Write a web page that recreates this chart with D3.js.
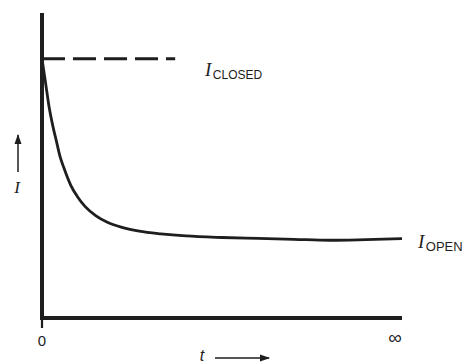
<!DOCTYPE html>
<html>
<head>
<meta charset="utf-8">
<script src="https://cdn.jsdelivr.net/npm/d3@7"></script>
<style>
  html, body { margin: 0; padding: 0; background: #fff; }
  svg { display: block; }
</style>
</head>
<body>
<svg id="chart" width="462" height="363"></svg>
<script>
// values (arbitrary units)
var tValues = [0, 1, 2, 3, 4, 5, 6, 8, 10, 12, 15, 18, 22, 27, 33, 40, 50, 60, 70, 80, 90, 100];
var iValues = [85, 77, 69, 63, 58, 53, 49.5, 43.5, 39.5, 36.5, 33.5, 31.5, 29.8, 28.5, 27.6, 26.9, 26.4, 26.1, 25.8, 25.5, 25.7, 26];
var iClosed = 85;
var closedEnd = 37;       // dashed reference stops here (t units)
var xTickValues = [0, 100];
var xTickLabels = ["0", "\u221E"];

var svg = d3.select("#chart");
var x = d3.scaleLinear().domain([0, 100]).range([42, 402]);
var y = d3.scaleLinear().domain([0, 100]).range([318, 13]);
var ink = "#1e1e1e";

// axes
svg.append("line")
    .attr("x1", x(0)).attr("x2", x(0))
    .attr("y1", y(100)).attr("y2", y(0) + 2)
    .attr("stroke", ink).attr("stroke-width", 4);
svg.append("line")
    .attr("x1", x(0) - 2).attr("x2", x(100))
    .attr("y1", y(0)).attr("y2", y(0))
    .attr("stroke", ink).attr("stroke-width", 4);
// small tick under origin
svg.append("line")
    .attr("x1", x(0)).attr("x2", x(0))
    .attr("y1", y(0)).attr("y2", y(0) + 10)
    .attr("stroke", ink).attr("stroke-width", 2.2);

svg.selectAll("text.tick").data(xTickValues).enter().append("text")
    .attr("class", "tick")
    .attr("x", function (d, i) { return x(d) - (i === 0 ? 0 : 7); })
    .attr("y", function (d, i) { return i === 0 ? 346 : 344; })
    .attr("text-anchor", "middle")
    .attr("font-family", "Liberation Sans, Arial, sans-serif")
    .attr("font-size", function (d, i) { return i === 0 ? 15 : 19; })
    .attr("fill", ink)
    .text(function (d, i) { return xTickLabels[i]; });

// I_closed dashed level
svg.append("line")
    .attr("x1", x(0)).attr("x2", x(closedEnd))
    .attr("y1", y(iClosed)).attr("y2", y(iClosed))
    .attr("stroke", ink).attr("stroke-width", 3.2)
    .attr("stroke-dasharray", "23,8");

// decay curve
var line = d3.line()
    .x(function (d, i) { return x(tValues[i]); })
    .y(function (d) { return y(d); })
    .curve(d3.curveMonotoneX);
svg.append("path")
    .datum(iValues)
    .attr("d", line)
    .attr("fill", "none")
    .attr("stroke", ink)
    .attr("stroke-width", 2.8);

// labels with subscripts
var label = function (px, py, sub, fs) {
    var t = svg.append("text").attr("x", px).attr("y", py).attr("fill", ink);
    t.append("tspan")
        .attr("font-family", "Liberation Serif, Times New Roman, serif")
        .attr("font-style", "italic")
        .attr("font-size", 19)
        .text("I");
    t.append("tspan")
        .attr("dy", 3)
        .attr("dx", 1.5)
        .attr("font-family", "Liberation Sans, Arial, sans-serif")
        .attr("font-size", fs)
        .text(sub);
};
label(205, 76, "CLOSED", 12);
label(418, 248, "OPEN", 13);

// axis names with arrows
svg.append("defs").append("marker")
    .attr("id", "head")
    .attr("viewBox", "0 0 10 10")
    .attr("refX", 9).attr("refY", 5)
    .attr("markerWidth", 10).attr("markerHeight", 10)
    .attr("markerUnits", "userSpaceOnUse")
    .attr("orient", "auto")
    .append("path")
    .attr("d", "M0,1.5L10,5L0,8.5Z")
    .attr("fill", ink);

svg.append("line")
    .attr("x1", 18).attr("x2", 18)
    .attr("y1", 172).attr("y2", 135)
    .attr("stroke", ink).attr("stroke-width", 1.5)
    .attr("marker-end", "url(#head)");
svg.append("text")
    .attr("x", 17).attr("y", 193)
    .attr("text-anchor", "middle")
    .attr("font-family", "Liberation Serif, Times New Roman, serif")
    .attr("font-style", "italic")
    .attr("font-size", 17)
    .attr("fill", ink)
    .text("I");

svg.append("line")
    .attr("x1", 215).attr("x2", 269)
    .attr("y1", 358).attr("y2", 358)
    .attr("stroke", ink).attr("stroke-width", 1.5)
    .attr("marker-end", "url(#head)");
svg.append("text")
    .attr("x", 202).attr("y", 361)
    .attr("text-anchor", "middle")
    .attr("font-family", "Liberation Sans, Arial, sans-serif")
    .attr("font-style", "italic")
    .attr("font-size", 16)
    .attr("fill", ink)
    .text("t");
</script>
</body>
</html>
